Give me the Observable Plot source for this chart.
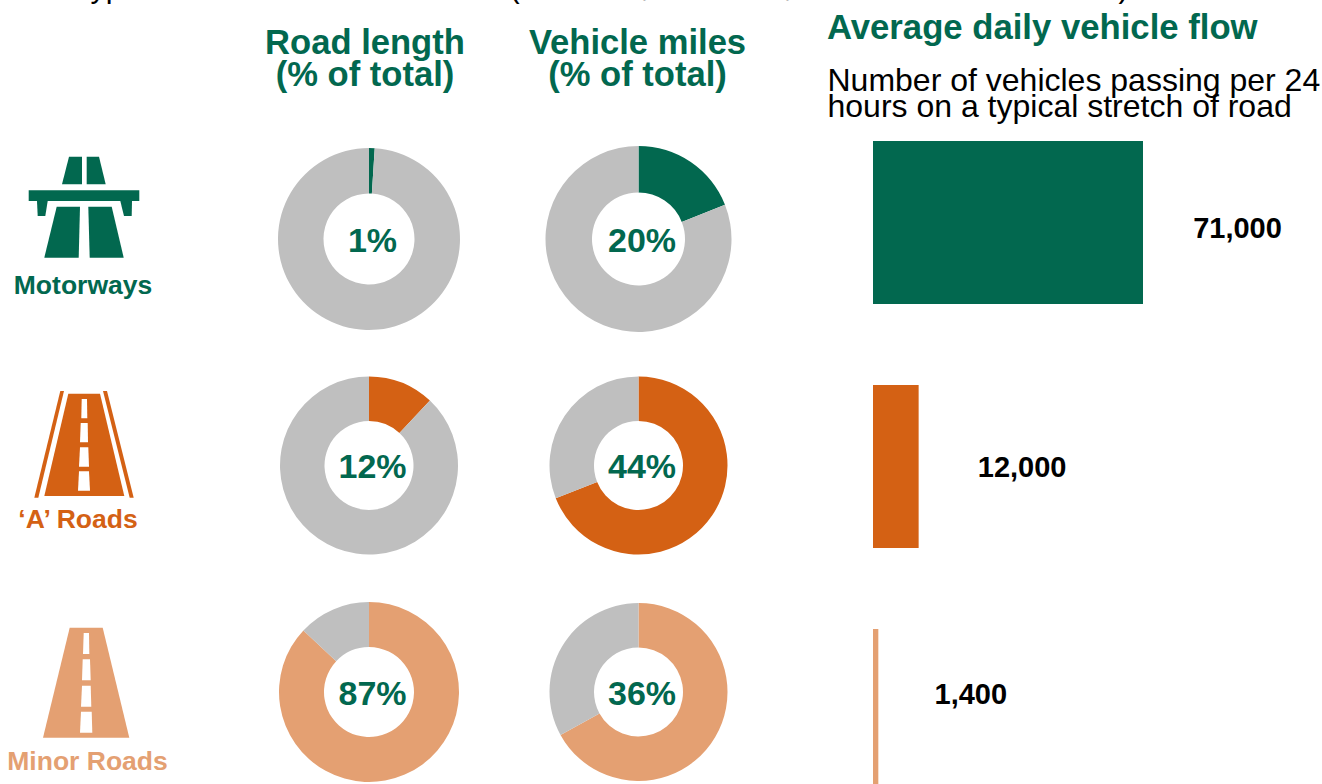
<!DOCTYPE html>
<html>
<head>
<meta charset="utf-8">
<script src="https://cdn.jsdelivr.net/npm/d3@7"></script>
<script src="https://cdn.jsdelivr.net/npm/@observablehq/plot@0.6"></script>
<style>
  html, body { margin: 0; padding: 0; background: #fff; overflow: hidden; }
  #chart { position: relative; width: 1322px; height: 784px; overflow: hidden; background: #fff; }
</style>
</head>
<body>
<div id="chart"></div>
<script>
// ---- Data ----
const roadTypes = ["Motorways", "‘A’ Roads", "Minor Roads"];
const metrics = ["Road length", "Vehicle miles"];
const roadLengthShare = [1, 12, 87];        // slice share as drawn
const vehicleMilesShare = [19, 69, 67];     // slice share as drawn
const roadLengthLabels = ["1%", "12%", "87%"];
const vehicleMilesLabels = ["20%", "44%", "36%"];
const dailyFlow = [71000, 12000, 1400];
const flowLabels = ["71,000", "12,000", "1,400"];

// ---- Styles and layout ----
const W = 1322, H = 784;
const GREEN = "#02684f", ORANGE = "#d46114", TAN = "#e4a072", GREY = "#bfbfbf";
const FONT = "'Liberation Sans', Arial, sans-serif";
const roadColors = [GREEN, ORANGE, TAN];
const outerRadius = [[91, 93], [89, 89], [90, 89]];
const flowLabelOffset = [[94, 5.5], [103, 0.5], [92, -16.5]];
const base = {
  width: W, height: H, marginTop: 0, marginRight: 0, marginBottom: 0, marginLeft: 0,
  style: {position: "absolute", left: 0, top: 0, background: "transparent", fontFamily: FONT, overflow: "hidden"}
};

// Ring-slice symbol for Plot.dot: d3.arc angles run clockwise from 12 o'clock
const ringSlice = (from, to, outer) => ({
  draw(context) {
    d3.arc().context(context)({
      innerRadius: outer / 2, outerRadius: outer,
      startAngle: from / 100 * 2 * Math.PI, endAngle: to / 100 * 2 * Math.PI
    });
  }
});

const slices = [];
[roadLengthShare, vehicleMilesShare].forEach((shares, m) => shares.forEach((share, r) => {
  slices.push({metric: metrics[m], road: roadTypes[r], kind: roadTypes[r], from: 0, to: share, outer: outerRadius[r][m]});
  slices.push({metric: metrics[m], road: roadTypes[r], kind: "Other", from: share, to: 100, outer: outerRadius[r][m]});
}));
const percentRows = [];
[roadLengthLabels, vehicleMilesLabels].forEach((labels, m) => labels.forEach((text, r) => {
  percentRows.push({metric: metrics[m], road: roadTypes[r], text});
}));
const flowRows = roadTypes.map((road, i) => ({road, value: dailyFlow[i], text: flowLabels[i]}));

// ---- Icons (pictograms, not data) ----
const iconPolygons = [
  // motorway
  [GREEN, "69,156.7 82,156.7 82,184.3 62,184.3"],
  [GREEN, "86.7,156.7 99,156.7 105.7,184.3 86.7,184.3"],
  [GREEN, "28.7,190.3 139.3,190.3 139.3,201 28.7,201"],
  [GREEN, "37,201 47.7,201 45.3,216 37.7,216"],
  [GREEN, "120.3,201 132,201 131.7,216 124,216"],
  [GREEN, "56.7,206.7 80,206.7 78.7,257.7 44.3,257.7"],
  [GREEN, "88.3,206.7 111.7,206.7 123.7,257.7 89.7,257.7"],
  // A road
  [ORANGE, "68.3,393.7 100,393.7 124.3,496 44.3,496"],
  [ORANGE, "60.3,391 64,391 38.3,497.7 34.3,497.7"],
  [ORANGE, "103,391 107,391 133.7,497.7 129.7,497.7"],
  ["#fff", "81.7,399 87,399 87.3,418.3 81.3,418.3"],
  ["#fff", "80.7,423 87.7,423 88,442.3 80,442.3"],
  ["#fff", "80,447.3 88.3,447.3 89,466.7 79,466.7"],
  ["#fff", "79,471.3 89,471.3 90,490.7 78,490.7"],
  // minor road
  [TAN, "69.7,627.7 102.7,627.7 129.3,737.7 43,737.7"],
  ["#fff", "83.7,633 89,633 89.3,654 83,654"],
  ["#fff", "82.7,659.3 90,659.3 90.7,680.3 82,680.3"],
  ["#fff", "82,685.7 90.7,685.7 91.3,706.7 81,706.7"],
  ["#fff", "81,711.7 91.7,711.7 92.3,732.7 80,732.7"]
];
const iconsMark = () => {
  const g = d3.create("svg:g");
  g.selectAll("polygon").data(iconPolygons).join("polygon")
    .attr("fill", d => d[0]).attr("points", d => d[1]);
  return g.node();
};

// ---- Page furniture text ----
const headings = [
  {text: "Road length\n(% of total)", x: 364.5, y: 59, fill: GREEN, size: 34.6, weight: "bold", anchor: "middle", lh: 0.95},
  {text: "Vehicle miles\n(% of total)", x: 637, y: 59, fill: GREEN, size: 34.6, weight: "bold", anchor: "middle", lh: 0.95},
  {text: "Average daily vehicle flow", x: 826.5, y: 27.5, fill: GREEN, size: 34.7, weight: "bold", anchor: "start", lh: 1},
  {text: "Number of vehicles passing per 24\nhours on a typical stretch of road", x: 827, y: 95, fill: "#000", size: 32, weight: "normal", anchor: "start", lh: 0.8125},
  {text: "Motorways", x: 82.5, y: 285, fill: GREEN, size: 26.5, weight: "bold", anchor: "middle", lh: 1},
  {text: "‘A’ Roads", x: 77.5, y: 519, fill: ORANGE, size: 26.5, weight: "bold", anchor: "middle", lh: 1},
  {text: "Minor Roads", x: 87, y: 761, fill: TAN, size: 26.5, weight: "bold", anchor: "middle", lh: 1}
];
// Title is cut off by the top edge: only descenders are visible
const clipped = [
  {text: "Types", x: 73, fill: "#000"},
  {text: "(", x: 509, fill: "#000"},
  {text: ",", x: 640, fill: "#bbb"},
  {text: ",", x: 783, fill: "#bbb"},
  {text: ")", x: 1118, fill: "#000"}
];

// ---- Layer 1: icons and headings on a pixel frame ----
const frame = Plot.plot({
  ...base,
  x: {type: "linear", domain: [0, W], range: [0, W], axis: null},
  y: {type: "linear", domain: [0, H], range: [0, H], axis: null},
  marks: [
    iconsMark,
    Plot.text(clipped, {x: "x", y: () => -13, text: "text", fill: "fill", fontSize: 30.5, textAnchor: "start", lineAnchor: "middle"}),
    ...headings.map(h => Plot.text([h], {
      x: "x", y: "y", text: "text", fill: h.fill, fontSize: h.size, fontWeight: h.weight,
      textAnchor: h.anchor, lineAnchor: "middle", lineHeight: h.lh
    }))
  ]
});

// ---- Layer 2: doughnuts ----
const donuts = Plot.plot({
  ...base,
  x: {type: "point", domain: metrics, range: [368.5, 638], padding: 0, round: false, axis: null},
  y: {type: "point", domain: roadTypes, range: [238.5, 691.5], padding: 0, round: false, axis: null},
  color: {type: "ordinal", domain: [...roadTypes, "Other"], range: [...roadColors, GREY]},
  marks: [
    ...slices.map(s => Plot.dot([s], {
      x: "metric", y: "road", fill: "kind", stroke: "none",
      symbol: ringSlice(s.from, s.to, s.outer)
    })),
    Plot.text(percentRows, {
      x: "metric", y: "road", text: "text", dx: 3.5, dy: 2,
      fill: GREEN, fontSize: 34, fontWeight: "bold", textAnchor: "middle", lineAnchor: "middle"
    })
  ]
});

// ---- Layer 3: average daily flow bars ----
const flow = Plot.plot({
  ...base,
  x: {type: "linear", domain: [0, 71000], range: [873, 1143], axis: null},
  y: {type: "band", domain: roadTypes, range: [141, 792], paddingInner: 81 / 244, paddingOuter: 0, align: 0, axis: null},
  color: {type: "ordinal", domain: roadTypes, range: roadColors},
  marks: [
    Plot.barX(flowRows, {x: "value", y: "road", fill: "road", insetTop: 0, insetBottom: 0}),
    ...flowRows.map((d, i) => Plot.text([d], {
      x: "value", y: "road", text: "text", dx: flowLabelOffset[i][0], dy: flowLabelOffset[i][1],
      fill: "#000", fontSize: 29, fontWeight: "bold", textAnchor: "middle", lineAnchor: "middle"
    }))
  ]
});

const chart = document.getElementById("chart");
chart.append(frame, donuts, flow);
</script>
</body>
</html>
